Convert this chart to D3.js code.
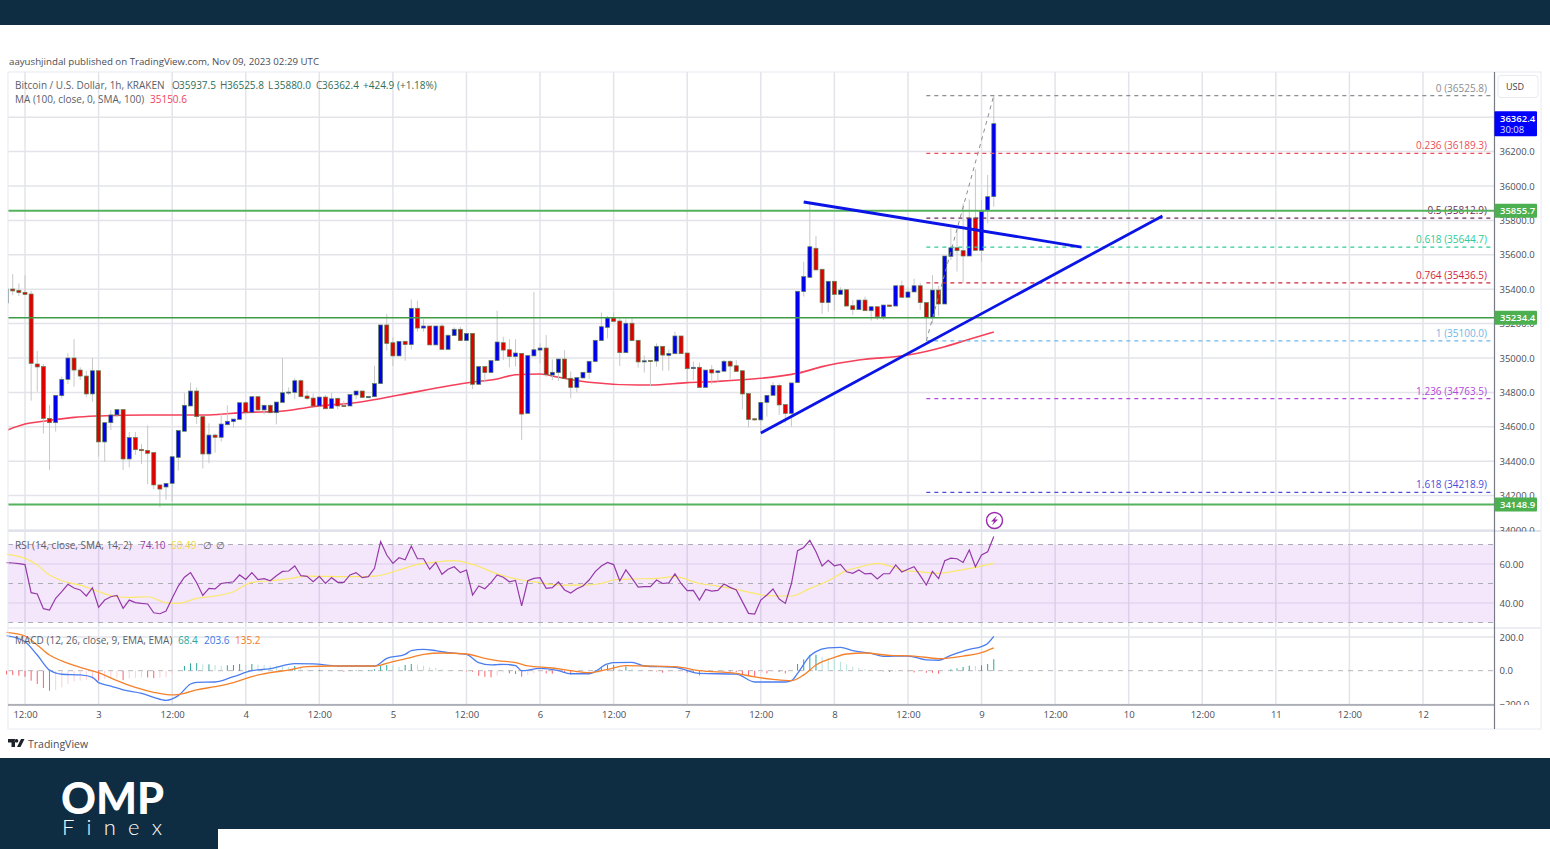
<!DOCTYPE html>
<html>
<head>
<meta charset="utf-8">
<script src="https://cdn.jsdelivr.net/npm/d3@7"></script>
<style>
  body { margin: 0; background: #fff; }
  svg { display: block; }
  text { font-family: "Open Sans", sans-serif; }
</style>
</head>
<body>
<svg id="chart" width="1550" height="849"></svg>
<script>
/* Data: hourly candles, first one is hour -3 (hour 0 = Nov 2, 12:00) */
var firstHour = -3;

var opens = [
  35320,35401,35393,35382,35372,34965,34950,34649,34624,34781,
  34876,35000,34930,34895,34791,34926,34512,34624,34669,34700,
  34413,34537,34469,34463,34450,34262,34250,34271,34422,34574,
  34721,34808,34659,34442,34552,34539,34612,34630,34643,34740,
  34684,34775,34698,34725,34682,34742,34796,34800,34868,34779,
  34767,34721,34773,34707,34765,34723,34721,34785,34808,34769,
  34775,34851,35192,35089,35012,35097,35078,35289,35174,35186,
  35076,35186,35050,35130,35167,35101,35143,34847,34950,34915,
  34985,35089,35048,35008,35027,34678,35012,35046,35058,34901,
  34915,34994,34882,34829,34884,34915,34979,35101,35178,35234,
  35215,35031,35202,35103,34977,34986,34982,35068,35015,35025,
  35128,35029,34938,34946,34829,34932,34915,34923,34981,34955,
  34926,34793,34647,34640,34742,34783,34841,34729,34678,34857,
  35386,35469,35638,35516,35322,35446,35370,35397,35304,35281,
  35337,35275,35298,35240,35308,35302,35420,35353,35384,35420,
  35322,35236,35395,35314,35591,35641,35624,35593,35814,35626,35857,35938
];
var highs = [
  35401,35488,35434,35480,35391,35041,34965,34727,34783,34892,
  35027,35109,34946,34926,35000,34926,34624,34698,34700,34700,
  34570,34570,34500,34609,34450,34262,34271,34426,34578,34795,
  34857,34829,34663,34620,34560,34678,34725,34645,34740,34746,
  34775,34775,34729,34729,34744,35000,34829,34882,34876,34810,
  34794,34773,34785,34798,34771,34752,34787,34808,34808,34777,
  34955,35192,35256,35120,35097,35100,35341,35333,35225,35186,
  35186,35198,35140,35178,35182,35143,35143,34950,34950,34985,
  35275,35124,35109,35109,35027,35014,35384,35085,35134,34992,
  34994,35046,34921,34886,34917,34981,35103,35265,35244,35265,
  35231,35225,35231,35103,35014,34986,35085,35068,35050,35153,
  35128,35029,34979,34973,34930,34959,34925,34988,34988,34988,
  34926,34793,34647,34742,34783,34860,34853,34729,34855,35388,
  35560,35895,35709,35516,35446,35446,35411,35397,35337,35337,
  35357,35298,35298,35308,35308,35420,35450,35411,35461,35438,
  35322,35482,35419,35593,35754,35744,35899,35922,36097,35919,36064,36525.8
];
var lows = [
  35320,35366,35360,35366,34752,34804,34562,34349,34572,34765,
  34849,34833,34872,34775,34746,34426,34397,34581,34655,34349,
  34364,34436,34384,34267,34236,34132,34175,34165,34345,34574,
  34721,34616,34358,34388,34450,34514,34612,34595,34643,34669,
  34684,34694,34672,34678,34614,34742,34785,34760,34775,34756,
  34721,34717,34705,34707,34702,34717,34721,34760,34771,34767,
  34775,34851,35043,34953,35012,34984,35050,35153,35153,35076,
  35076,35050,35050,35130,35101,35101,34818,34845,34856,34915,
  34985,34988,34946,34950,34523,34678,35012,34969,34891,34872,
  34866,34880,34765,34800,34880,34878,34979,35101,35114,35213,
  34953,35031,35101,34944,34915,34837,34950,34926,34926,35025,
  35025,34862,34872,34829,34829,34847,34862,34923,34876,34922,
  34702,34597,34635,34577,34659,34783,34669,34624,34601,34857,
  35357,35469,35512,35256,35269,35275,35370,35302,35250,35281,
  35275,35217,35221,35221,35300,35302,35353,35353,35384,35279,
  35100,35201,35244,35314,35570,35502,35438,35593,35626,35560,35783,35880
];
var closes = [
  35401,35390,35380,35370,34969,34948,34649,34624,34783,34876,
  35000,34930,34895,34791,34926,34512,34624,34669,34700,34413,
  34537,34467,34461,34446,34262,34238,34271,34426,34578,34725,
  34808,34659,34442,34552,34539,34616,34632,34645,34740,34684,
  34775,34698,34725,34682,34744,34798,34802,34868,34775,34765,
  34721,34773,34705,34763,34721,34719,34787,34808,34771,34777,
  34851,35192,35085,35012,35097,35078,35289,35174,35186,35076,
  35186,35050,35132,35167,35101,35143,34847,34950,34915,34985,
  35093,35046,35008,35029,34674,35014,35048,35058,34903,34917,
  34994,34880,34829,34886,34917,34981,35103,35182,35234,35213,
  35031,35202,35101,34977,34984,34979,35068,35017,35027,35128,
  35025,34938,34946,34829,34930,34913,34925,34981,34953,34922,
  34791,34643,34640,34742,34783,34841,34727,34678,34855,35388,
  35473,35647,35512,35322,35446,35370,35395,35302,35281,35337,
  35275,35298,35240,35308,35300,35420,35353,35384,35420,35322,
  35236,35395,35314,35593,35641,35624,35593,35814,35626,35851,35938,36362.4
];

/* MA 100, read at these hours */
var maHours = [-3,0,3,8,12,20,30,36,41,47,55,61,73,77,80,84,87,92,100,102,108,113,120,125,126,130,136,144,150,154,158];
var maValues = [34579,34616,34632,34655,34663,34669,34669,34684,34688,34717,34746,34785,34860,34878,34903,34907,34888,34859,34843,34843,34857,34864,34882,34905,34911,34950,34988,35017,35066,35109,35150.6];

var rsiValues = [
  60.7,60.5,60.2,59.7,45.3,44.6,37.1,36.4,42.4,45.8,
  49.6,47.7,46.7,43.6,47.8,37.8,41.5,43.2,43.9,37.3,
  41.5,40.2,39.8,39.5,35,34.5,35.9,42.4,48.7,53.2,
  55.6,50.4,43.9,47.5,47.2,50,50.4,50.9,54.4,52.1,
  55.6,52,52.5,51.4,54,56.2,56.4,59,54,53.7,
  50.9,53.7,50,53,50.6,50.6,54.4,55.6,53,53.5,
  57.8,71.5,64.6,60.3,63.2,62.2,69.2,62.7,62.7,57.3,
  60.8,54.7,57.3,58.6,55.6,56.9,44.1,48.7,47.3,50.4,
  54.4,53.2,50.9,51.6,38.5,51.4,52.6,53,47.5,47.9,
  50.8,46.7,45.1,47.3,48.7,51.8,56.1,59,60.8,59.7,
  51.4,57,52.6,48.2,48.4,48.4,51.8,50,50.3,54.9,
  50,46.3,46.5,41.5,47,46.1,46.5,49.7,48,46.7,
  40.7,34.7,34.3,41.5,44.1,47.2,42,39.8,50,66.8,
  68.5,72.1,66.3,59,61.9,59.1,59.8,56,55.2,56.9,
  54.9,55.2,52.3,55,55,59.5,55.9,57.3,58.6,54,
  49.2,56.2,52.5,61.7,63,62.7,60.8,67.2,58.6,64.6,66.3,74.1
];
var rsiMaHours = [-3,0,2,4,6,9,12,15,17,20,23,25,28,31,34,37,40,43,46,53,57,61,64,67,70,73,77,81,84,87,91,94,96,99,103,106,110,113,116,119,121,123,125,128,131,134,136,139,141,143,146,149,152,155,158];
var rsiMaValues = [65.1,62.9,59.5,54.3,51.4,49.2,45.8,43.2,42.9,43.2,40.2,39.8,42.4,43.6,45.8,50.6,51.4,52.5,53.8,53.5,53.8,56.9,59.8,61,61.7,59.8,54.9,51.8,50.4,49.2,49.2,50,51.8,52.3,52.6,53.5,50,48.7,47,44.9,43.8,43.6,43.6,47.5,51.4,56.6,58.3,60.3,59,56.9,56,55.2,56.6,58.3,60.49];

var macdHours = [-3,0,2,4,6,9,11,12,14,16,19,21,23,25,27,28,31,34,37,40,44,47,51,57,59,62,63,65,67,69,72,74,76,77,78,80,81,84,87,89,92,95,96,99,101,106,110,116,119,121,124,125,126,128,129,131,133,135,138,140,144,147,149,151,154,156,157,158];
var macdValues = [208,172,93,4,-21,-25,-39,-71,-91,-114,-134,-158,-176,-148,-79,-69,-67,-35,0,12,42,40,28,28,73,97,119,127,119,107,97,48,34,36,38,30,0,14,0,-18,-18,40,48,50,28,20,-16,-20,-67,-67,-67,-59,-16,87,113,135,139,119,103,85,87,64,62,91,127,143,162,203.6];
var signalHours = [-3,0,2,4,6,9,12,15,18,21,24,26,28,31,34,37,40,43,46,50,57,60,63,65,68,72,75,77,80,82,86,89,92,95,98,101,106,110,116,119,122,125,127,129,132,134,137,141,145,149,153,156,158];
var signalValues = [228,206,153,93,58,20,-12,-59,-99,-128,-144,-134,-114,-95,-71,-35,-12,4,24,28,28,54,79,97,105,99,73,60,48,28,16,0,-12,8,30,28,24,0,-16,-37,-51,-59,-25,34,79,99,105,91,87,72,87,107,135.2];
var histValues = [
  -22,-26,-30,-36,-59,-79,-103,-119,-115,-99,
  -79,-65,-59,-55,-50,-59,-50,-45,-40,-55,
  -45,-42,-40,-40,-44,-42,-40,-16,2,28,
  44,45,38,38,34,30,32,34,40,34,
  40,36,34,30,28,24,20,28,16,8,
  4,4,2,0,-2,-6,2,4,2,4,
  8,28,34,30,24,34,40,36,30,20,
  16,8,4,2,0,-4,-6,-30,-36,-40,
  -30,-10,-16,-20,-36,-26,-16,-6,-16,-18,
  -6,-10,-22,-12,-6,-2,4,20,34,34,
  10,26,12,4,0,-2,-4,-12,-8,-6,
  -4,-12,-12,-28,-12,-8,-4,-4,-6,-8,
  -20,-28,-36,-12,-16,-6,-8,-16,0,40,
  67,95,95,83,75,67,53,38,24,16,
  8,4,-2,-4,-8,-6,-2,-4,-10,-4,
  -12,-12,-18,-2,8,14,22,30,28,32,40,68.4
];

var priceTicks = [36400,36200,36000,35800,35600,35400,35200,35000,34800,34600,34400,34200,34000];
var rsiTicks = [60,40];
var rsiLevels = [70,50,30];
var macdTicks = [200,0,-200];
var timeHours = [0,24,36,48,60,72,84,96,108,120,132,144,156,168,180,192,204,216,228].concat([12]).sort(d3.ascending);
var timeLabels = ["12:00","3","12:00","4","12:00","5","12:00","6","12:00","7","12:00","8","12:00","9","12:00","10","12:00","11","12:00","12"];

var levels = [35855.7,35234.4,34148.9];
var levelWidths = [2,1.5,2];

var fibRatios = ["0","0.236","0.5","0.618","0.764","1","1.236","1.618"];
var fibPrices = [36525.8,36189.3,35812.9,35644.7,35436.5,35100,34763.5,34218.9];
var fibColors = ["#8b8d94","#ea4f5a","#6d2b58","#2ccb98","#d0243c","#6db6e8","#b048dc","#4a4cdc"];

var trendUpHours = [120,185.5], trendUpPrices = [34564,35826];
var trendDownHours = [127,172.3], trendDownPrices = [35907,35645];
var fibDiagHours = [147,158], fibDiagPrices = [35100,36525.8];

/* Scales */
var x = d3.scaleLinear().domain([0,228]).range([25,1423]);
var yPrice = d3.scaleLinear().domain([34000,36000]).range([530,186]);
var yRsi = d3.scaleLinear().domain([30,70]).range([622.5,544.5]);
var yMacd = d3.scaleLinear().domain([-200,200]).range([704.4,637]);

var svg = d3.select("svg#chart");
var paneLeft = 8, paneRight = 1494.5, frameRight = 1541, frameTop = 72, frameBottom = 729, axisY = 705;

var hours = d3.range(opens.length).map(i => firstHour + i);

var defs = svg.append("defs");
function addClip(id, x0, y0, x1, y1) {
  defs.append("clipPath").attr("id", id).append("rect")
    .attr("x", x0).attr("y", y0).attr("width", x1 - x0).attr("height", y1 - y0);
}
addClip("clip-main", paneLeft, frameTop, paneRight, 530);
addClip("clip-main-axis", paneRight, frameTop, frameRight, 531.5);
addClip("clip-macd-axis", paneRight, 628, frameRight, axisY);

/* Page bands */
svg.append("rect").attr("width", 1550).attr("height", 25).attr("fill", "#0f2d42");
svg.append("rect").attr("y", 758).attr("width", 1550).attr("height", 91).attr("fill", "#0f2d42");
svg.append("rect").attr("x", 218).attr("y", 829).attr("width", 1332).attr("height", 20).attr("fill", "#fff");

svg.append("text").attr("x", 9).attr("y", 65).attr("font-size", 9.7).attr("fill", "#4a4d57")
  .text("aayushjindal published on TradingView.com, Nov 09, 2023 02:29 UTC");

/* Grid */
var grid = svg.append("g").attr("stroke", "#e3e4ea");
grid.selectAll("line.v").data(timeHours).enter().append("line").attr("class", "v")
  .attr("x1", d => x(d)).attr("x2", d => x(d)).attr("y1", frameTop).attr("y2", axisY)
  .attr("stroke-width", 1.5);
grid.selectAll("line.p").data(priceTicks).enter().append("line").attr("class", "p")
  .attr("x1", paneLeft).attr("x2", paneRight).attr("y1", d => yPrice(d)).attr("y2", d => yPrice(d))
  .attr("stroke-width", 1.5);
grid.selectAll("line.r").data(rsiTicks).enter().append("line").attr("class", "r")
  .attr("x1", paneLeft).attr("x2", paneRight).attr("y1", d => yRsi(d)).attr("y2", d => yRsi(d))
  .attr("stroke-width", 1.2);
grid.selectAll("line.m").data(macdTicks).enter().append("line").attr("class", "m")
  .attr("x1", paneLeft).attr("x2", paneRight).attr("y1", d => yMacd(d)).attr("y2", d => yMacd(d))
  .attr("stroke-width", d => d === 0 ? 0 : 1.5);

/* MA under the candles */
var main = svg.append("g").attr("clip-path", "url(#clip-main)");
var maLine = d3.line().x((d, i) => x(maHours[i])).y(d => yPrice(d)).curve(d3.curveMonotoneX);
main.append("path").attr("d", maLine(maValues)).attr("fill", "none")
  .attr("stroke", "#f5405a").attr("stroke-width", 1.6);

/* Candles */
main.selectAll("line.wick").data(hours).enter().append("line").attr("class", "wick")
  .attr("x1", d => x(d)).attr("x2", d => x(d))
  .attr("y1", (d, i) => yPrice(highs[i])).attr("y2", (d, i) => yPrice(lows[i]))
  .attr("stroke", "#c8c8c8").attr("stroke-width", 1);
main.selectAll("rect.body").data(hours).enter().append("rect").attr("class", "body")
  .attr("x", d => x(d) - 2)
  .attr("width", 4)
  .attr("y", (d, i) => yPrice(Math.max(opens[i], closes[i])))
  .attr("height", (d, i) => Math.max(1, Math.abs(yPrice(opens[i]) - yPrice(closes[i]))))
  .attr("fill", (d, i) => closes[i] >= opens[i] ? "#0000f0" : "#e00000")
  .attr("stroke", "#5f7f55").attr("stroke-width", 0.7);

/* Fib retracement */
var fibG = main.append("g");
fibG.selectAll("line").data(fibPrices).enter().append("line")
  .attr("x1", x(fibDiagHours[0])).attr("x2", paneRight)
  .attr("y1", d => yPrice(d)).attr("y2", d => yPrice(d))
  .attr("stroke", (d, i) => fibColors[i]).attr("stroke-width", 1.2).attr("stroke-dasharray", "4 4");
fibG.selectAll("text").data(fibPrices).enter().append("text")
  .attr("x", 1487).attr("y", d => yPrice(d) - 4).attr("text-anchor", "end")
  .attr("font-size", 10).attr("fill", (d, i) => fibColors[i])
  .text((d, i) => fibRatios[i] + " (" + d.toFixed(1) + ")");
fibG.append("line")
  .attr("x1", x(fibDiagHours[0])).attr("y1", yPrice(fibDiagPrices[0]))
  .attr("x2", x(fibDiagHours[1])).attr("y2", yPrice(fibDiagPrices[1]))
  .attr("stroke", "#8b8d94").attr("stroke-width", 1).attr("stroke-dasharray", "4 4");

/* Horizontal levels and trend lines */
main.selectAll("line.level").data(levels).enter().append("line").attr("class", "level")
  .attr("x1", paneLeft).attr("x2", paneRight)
  .attr("y1", d => yPrice(d)).attr("y2", d => yPrice(d))
  .attr("stroke", (d, i) => i === 1 ? "#3f9b45" : "#55b25c")
  .attr("stroke-width", (d, i) => levelWidths[i]);
[[trendUpHours, trendUpPrices], [trendDownHours, trendDownPrices]].forEach(t => {
  main.append("line")
    .attr("x1", x(t[0][0])).attr("y1", yPrice(t[1][0]))
    .attr("x2", x(t[0][1])).attr("y2", yPrice(t[1][1]))
    .attr("stroke", "#0a14e6").attr("stroke-width", 2.8);
});

/* RSI pane */
svg.append("rect").attr("x", paneLeft).attr("width", paneRight - paneLeft - 1)
  .attr("y", yRsi(70)).attr("height", yRsi(30) - yRsi(70))
  .attr("fill", "#9c27e0").attr("fill-opacity", 0.11);
svg.selectAll("line.rsilevel").data(rsiLevels).enter().append("line").attr("class", "rsilevel")
  .attr("x1", paneLeft).attr("x2", paneRight)
  .attr("y1", d => yRsi(d)).attr("y2", d => yRsi(d))
  .attr("stroke", "#abacb4").attr("stroke-dasharray", "5 5");
var rsiLine = d3.line().x((d, i) => x(hours[i])).y(d => yRsi(d));
var rsiMaLine = d3.line().x((d, i) => x(rsiMaHours[i])).y(d => yRsi(d)).curve(d3.curveMonotoneX);
svg.append("path").attr("d", rsiMaLine(rsiMaValues)).attr("fill", "none")
  .attr("stroke", "#fbe86a").attr("stroke-width", 1.2);
svg.append("path").attr("d", rsiLine(rsiValues)).attr("fill", "none")
  .attr("stroke", "#953aa8").attr("stroke-width", 1.2);

/* MACD pane */
svg.append("line").attr("x1", paneLeft).attr("x2", paneRight)
  .attr("y1", yMacd(0)).attr("y2", yMacd(0))
  .attr("stroke", "#b5b6bc").attr("stroke-dasharray", "5 5");
svg.selectAll("line.hist").data(hours).enter().append("line").attr("class", "hist")
  .attr("x1", d => x(d)).attr("x2", d => x(d))
  .attr("y1", yMacd(0)).attr("y2", (d, i) => yMacd(histValues[i]))
  .attr("stroke", (d, i) => {
    var v = histValues[i], prev = i > 0 ? histValues[i - 1] : v;
    if (v >= 0) return v >= prev ? "#2aa79b" : "#b8e2dd";
    return v <= prev ? "#f9626a" : "#fcd0d4";
  })
  .attr("stroke-width", 1);
var macdLine = d3.line().x((d, i) => x(macdHours[i])).y(d => yMacd(d)).curve(d3.curveMonotoneX);
var signalLine = d3.line().x((d, i) => x(signalHours[i])).y(d => yMacd(d)).curve(d3.curveMonotoneX);
svg.append("path").attr("d", macdLine(macdValues)).attr("fill", "none")
  .attr("stroke", "#4a7df0").attr("stroke-width", 1.3);
svg.append("path").attr("d", signalLine(signalValues)).attr("fill", "none")
  .attr("stroke", "#f5812a").attr("stroke-width", 1.3);

/* Pane separators and frame */
svg.append("line").attr("x1", paneLeft).attr("x2", frameRight).attr("y1", 531).attr("y2", 531)
  .attr("stroke", "#e0e3eb").attr("stroke-width", 2);
svg.append("line").attr("x1", paneLeft).attr("x2", frameRight).attr("y1", 628).attr("y2", 628)
  .attr("stroke", "#eceef3").attr("stroke-width", 2);
svg.append("rect").attr("x", paneLeft).attr("y", frameTop)
  .attr("width", frameRight - paneLeft).attr("height", frameBottom - frameTop)
  .attr("fill", "none").attr("stroke", "#e8eaf0");
svg.append("line").attr("x1", paneRight).attr("x2", paneRight).attr("y1", frameTop).attr("y2", frameBottom)
  .attr("stroke", "#787b86").attr("stroke-width", 1.2);
svg.append("line").attr("x1", paneLeft).attr("x2", paneRight).attr("y1", axisY).attr("y2", axisY)
  .attr("stroke", "#787b86").attr("stroke-width", 1.2);

/* Axes */
function styleAxis(g) {
  g.attr("font-family", '"Open Sans", sans-serif').attr("font-size", 9.5);
  g.select(".domain").remove();
  g.selectAll("text").attr("fill", "#4a4d57");
}
svg.append("g").attr("clip-path", "url(#clip-main-axis)")
  .append("g").attr("transform", "translate(" + paneRight + ",0)")
  .call(d3.axisRight(yPrice).tickValues(priceTicks).tickFormat(d3.format(".1f")).tickSize(0).tickPadding(5))
  .call(styleAxis);
svg.append("g").attr("transform", "translate(" + paneRight + ",0)")
  .call(d3.axisRight(yRsi).tickValues(rsiTicks).tickFormat(d3.format(".2f")).tickSize(0).tickPadding(5))
  .call(styleAxis);
svg.append("g").attr("clip-path", "url(#clip-macd-axis)")
  .append("g").attr("transform", "translate(" + paneRight + ",0)")
  .call(d3.axisRight(yMacd).tickValues(macdTicks).tickFormat(d3.format(".1f")).tickSize(0).tickPadding(5))
  .call(styleAxis);
svg.append("g").attr("transform", "translate(0," + axisY + ")")
  .call(d3.axisBottom(x).tickValues(timeHours).tickFormat((d, i) => timeLabels[i]).tickSize(0).tickPadding(6))
  .call(styleAxis);

/* Price tags */
function tag(price, fill, h, label, sub) {
  var yy = yPrice(price);
  var g = svg.append("g");
  g.append("rect").attr("x", paneRight).attr("width", 42.5).attr("height", h)
    .attr("y", yy - h / 2).attr("rx", 1).attr("fill", fill);
  g.append("text").attr("x", 1500).attr("y", sub ? yy - 2 : yy + 3.5)
    .attr("font-size", 9.5).attr("font-weight", 600).attr("fill", "#fff").text(label);
  if (sub) g.append("text").attr("x", 1500).attr("y", yy + 9.5)
    .attr("font-size", 9.5).attr("fill", "#dfe3ff").text(sub);
}
levels.forEach(d => tag(d, "#4caf50", 14, d.toFixed(1)));
tag(closes[closes.length - 1], "#0000ff", 25, closes[closes.length - 1].toFixed(1), "30:08");

/* USD button */
svg.append("rect").attr("x", 1498).attr("y", 75.5).attr("width", 40).attr("height", 22).attr("rx", 3)
  .attr("fill", "#fff").attr("stroke", "#e8eaf0");
svg.append("text").attr("x", 1506).attr("y", 90).attr("font-size", 9).attr("fill", "#3c3f4a").text("USD");

/* Legends */
function legendRow(yy, items) {
  items.forEach(it => {
    svg.append("text").attr("x", it[0]).attr("y", yy).attr("font-size", 10)
      .attr("fill", it[2]).text(it[1]);
  });
}
var titleGrey = "#5b5e68", ohlcGreen = "#2f6f57";
legendRow(89, [[15, "Bitcoin / U.S. Dollar, 1h, KRAKEN", titleGrey],
  [172, "O", titleGrey], [179, "35937.5", ohlcGreen],
  [220, "H", titleGrey], [227, "36525.8", ohlcGreen],
  [268, "L", titleGrey], [274, "35880.0", ohlcGreen],
  [316, "C", titleGrey], [322, "36362.4", ohlcGreen],
  [363, "+424.9", ohlcGreen], [397, "(+1.18%)", ohlcGreen]]);
legendRow(103, [[15, "MA (100, close, 0, SMA, 100)", titleGrey], [150, "35150.6", "#f5405a"]]);
legendRow(548.5, [[15, "RSI (14, close, SMA, 14, 2)", titleGrey], [140, "74.10", "#953aa8"],
  [171, "60.49", "#efd840"], [203, "∅", titleGrey], [216, "∅", titleGrey]]);
legendRow(644, [[15, "MACD (12, 26, close, 9, EMA, EMA)", titleGrey], [178, "68.4", "#26a69a"],
  [204, "203.6", "#3b78e8"], [235, "135.2", "#f57c20"]]);

/* Alert icon */
var icon = svg.append("g").attr("transform", "translate(994.5,520.5)");
icon.append("circle").attr("r", 8).attr("fill", "#fff").attr("stroke", "#9c27b0").attr("stroke-width", 1.4);
icon.append("path").attr("d", "M2.5,-5 L-3.5,1 L-0.5,1 L-2.5,5 L3.5,-1 L0.5,-1 Z").attr("fill", "#9c27b0");

/* TradingView mark */
svg.append("path").attr("transform", "translate(8,739)")
  .attr("d", "M0,0 H7 V8 H3.5 V3.5 H0 Z M8.5,0 a1.8,1.8 0 1 0 0.01,0 Z M13,0 H16.5 L12.5,8 H9 Z")
  .attr("fill", "#1d2129");
svg.append("text").attr("x", 28).attr("y", 748).attr("font-size", 10.5).attr("fill", "#4a4d57").text("TradingView");

/* OMP Finex logo */
svg.append("text").attr("x", 61).attr("y", 814).attr("font-size", 44).attr("font-weight", 900)
  .style("font-family", "Lato, sans-serif")
  .attr("fill", "#fff").attr("textLength", 103).attr("lengthAdjust", "spacingAndGlyphs").text("OMP");
svg.append("text").attr("x", 62).attr("y", 835).attr("font-size", 22).attr("font-weight", 300)
  .style("font-family", "Lato, sans-serif")
  .attr("fill", "#fff").attr("textLength", 100).attr("lengthAdjust", "spacing").text("Finex");
</script>
</body>
</html>
